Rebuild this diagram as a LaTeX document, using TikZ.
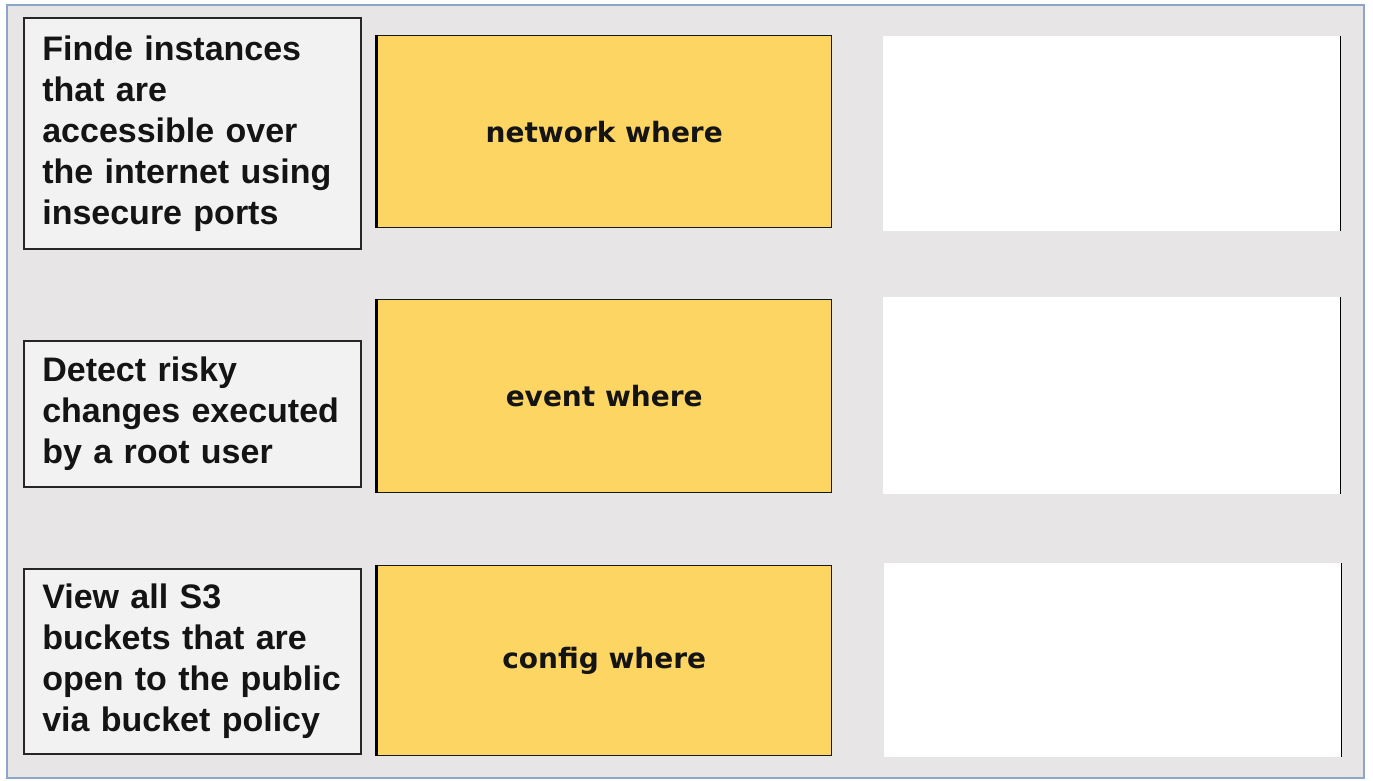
\documentclass[tikz,border=0pt]{standalone}
\usepackage{fontspec}
\setmainfont{Liberation Sans}
\newfontfamily\yfont{DejaVu Sans}
\definecolor{framebg}{RGB}{231,229,229}
\definecolor{framebd}{RGB}{140,166,200}
\definecolor{leftbg}{RGB}{242,242,242}
\definecolor{ybg}{RGB}{252,213,98}
\definecolor{txt}{RGB}{20,20,20}
\tikzset{
  leftbox/.style={draw=black!85, line width=1.6pt, fill=leftbg, anchor=north west,
    minimum width=337pt, text width=300pt, align=left, inner xsep=18pt, inner ysep=0pt,
    text=txt, font=\fontsize{34pt}{41pt}\selectfont\bfseries},
  ybox/.style={draw=black!90, line width=1.4pt, fill=ybg, anchor=north west,
    minimum width=455pt, inner sep=0pt, text=txt, font=\yfont\fontsize{28pt}{32pt}\selectfont\bfseries},
  wbox/.style={fill=white, anchor=north west, minimum width=457pt, inner sep=0pt},
  edge/.style={line width=1.8pt, black}
}
\begin{document}
\begin{tikzpicture}[x=1pt,y=-1pt]
\useasboundingbox (0,0) rectangle (1373,781);
\fill[white] (0,0) rectangle (1373,781);
\draw[framebd, line width=2pt, fill=framebg] (7,5) rectangle (1364,778);
% left boxes
\node[leftbox, minimum height=231pt] (l1) at (23,17) {Finde instances\\that are\\accessible over\\the internet using\\insecure ports};
\node[leftbox, minimum height=146pt] (l2) at (23,340) {Detect risky\\changes executed\\by a root user};
\node[leftbox, minimum height=185pt] (l3) at (23,568) {View all S3\\buckets that are\\open to the public\\via bucket policy};
% yellow boxes
\node[ybox, minimum height=192pt] (y1) at (376,35) {network where};
\node[ybox, minimum height=193pt] (y2) at (376,299) {event where};
\node[ybox, minimum height=190pt] (y3) at (376,565) {config where};
\foreach \n in {y1,y2,y3} {\draw[edge, line width=3pt] (\n.north west) -- (\n.south west);}
% white boxes
\node[wbox, minimum height=195pt] (w1) at (883,36) {};
\node[wbox, minimum height=197pt] (w2) at (883,297) {};
\node[wbox, minimum height=194pt] (w3) at (884,563) {};
\foreach \n in {w1,w2,w3} {\draw[edge] (\n.north east) -- (\n.south east);}
\end{tikzpicture}
\end{document}
